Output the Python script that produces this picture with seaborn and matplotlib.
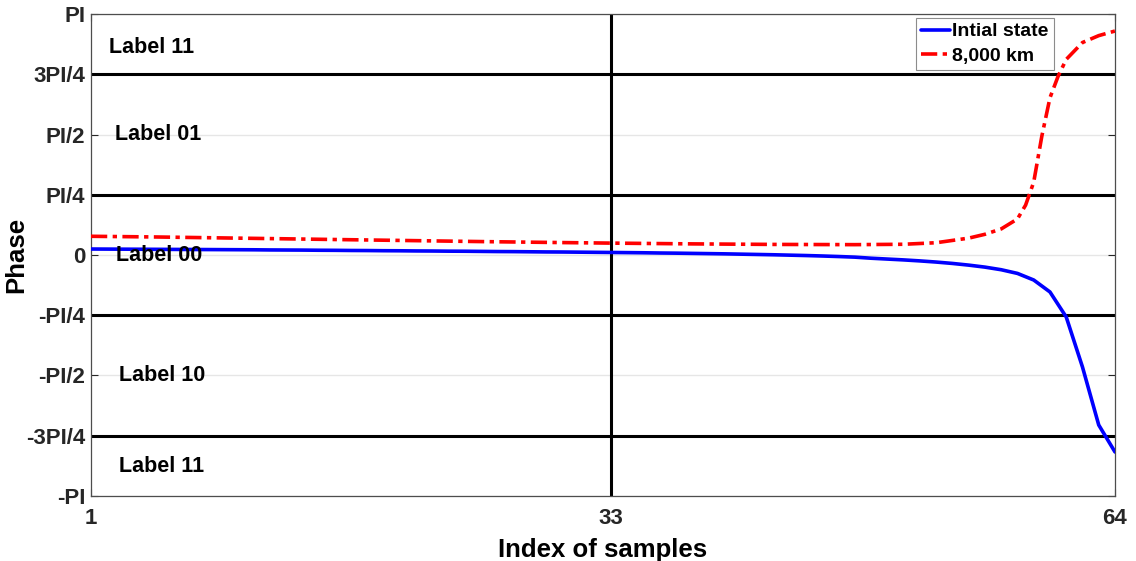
import numpy as np
import pandas as pd
import matplotlib
matplotlib.use("Agg")
import matplotlib.pyplot as plt
import seaborn as sns

# Phase of the initial state, one value per sample index (radians)
idx_initial = list(range(1, 65))
phase_initial = [
    0.078, 0.077, 0.076, 0.075, 0.074, 0.073, 0.072, 0.071, 0.070, 0.069,
    0.068, 0.066, 0.065, 0.064, 0.062, 0.061, 0.059, 0.058, 0.056, 0.055,
    0.053, 0.052, 0.050, 0.049, 0.047, 0.045, 0.044, 0.042, 0.040, 0.039,
    0.037, 0.035, 0.033, 0.031, 0.029, 0.026, 0.024, 0.021, 0.018, 0.015,
    0.011, 0.007, 0.003, -0.002, -0.007, -0.013, -0.020, -0.028, -0.042, -0.053,
    -0.064, -0.077, -0.092, -0.110, -0.132, -0.158, -0.192, -0.240, -0.326, -0.482,
    -0.808, -1.460, -2.216, -2.568,
]

# Phase after 8,000 km of propagation (radians)
idx_8000 = [1, 5, 10, 15, 20, 25, 30, 33, 38, 43, 48, 51, 53, 55, 56, 57,
            58, 58.5, 59, 59.5, 60, 60.5, 61, 62, 63, 64]
phase_8000 = [0.244, 0.235, 0.220, 0.205, 0.190, 0.175, 0.162, 0.155, 0.145,
              0.138, 0.135, 0.140, 0.160, 0.220, 0.270, 0.340, 0.470, 0.650,
              0.950, 1.550, 2.050, 2.330, 2.550, 2.770, 2.860, 2.920]

series_names = ["Intial state", "8,000 km"]

# Region labels: text, x position (sample index), phase
region_text = ["Label 11", "Label 01", "Label 00", "Label 10", "Label 11"]
region_x = [4.75, 5.1, 5.2, 5.35, 5.35]
region_y = [2.70, np.pi / 2, -0.01, -np.pi / 2, -2.76]

ytick_labels = ["-PI", "-3PI/4", "-PI/2", "-PI/4", "0", "PI/4", "PI/2", "3PI/4", "PI"]
xtick_values = [1, 33, 64]

sns.set_style("white")
plt.rcParams["font.family"] = ["Liberation Sans", "DejaVu Sans"]

fig = plt.figure(figsize=(11.36, 5.61), dpi=100)
ax = fig.add_axes([0.0801, 0.1159, 0.9014, 0.8591])

ax.set_xlim(1, 64)
ax.set_ylim(-np.pi, np.pi)

yticks = np.arange(-4, 5) * np.pi / 4
for y in yticks:
    ax.axhline(y, color="#e6e6e6", lw=1.0, zorder=0)
for y in [-3 * np.pi / 4, -np.pi / 4, np.pi / 4, 3 * np.pi / 4]:
    ax.axhline(y, color="black", lw=2.2, zorder=1)
ax.axvline(33, color="black", lw=2.2, zorder=1)

df_a = pd.DataFrame({"idx": idx_initial, "phase": phase_initial})
df_b = pd.DataFrame({"idx": idx_8000, "phase": phase_8000})
sns.lineplot(data=df_a, x="idx", y="phase", ax=ax, color="#0000ff", lw=2.6,
             label=series_names[0], zorder=3)
sns.lineplot(data=df_b, x="idx", y="phase", ax=ax, color="#ff0000", lw=2.6,
             label=series_names[1], zorder=3)
ax.lines[-1].set_linestyle((0, (4.5, 1.5, 1.2, 1.5)))

for t, x, y in zip(region_text, region_x, region_y):
    ax.text(x, y, t, ha="center", va="center", fontsize=15.5, fontweight="bold",
            color="black", zorder=4)

ax.tick_params(axis="both", direction="in", length=5, width=0.8, colors="#262626",
               top=True, right=True, left=True, bottom=True)
ax.tick_params(axis="y", pad=4)
ax.tick_params(axis="x", pad=9)
ax.set_yticks(yticks)
ax.set_yticklabels(ytick_labels, fontsize=16, fontweight="bold", color="#262626")
ax.set_xticks(xtick_values)
ax.set_xticklabels([str(v) for v in xtick_values], fontsize=16, fontweight="bold",
                   color="#262626")

for s in ax.spines.values():
    s.set_color("#4d4d4d")
    s.set_linewidth(0.9)

ax.set_xlabel("Index of samples", fontsize=18.5, fontweight="bold", color="black", labelpad=6)
ax.set_ylabel("Phase", fontsize=18.5, fontweight="bold", color="black")
ax.yaxis.set_label_coords(-0.061, 0.5)

leg = ax.legend(loc="upper right", bbox_to_anchor=(0.940, 0.992), borderaxespad=0,
                frameon=True, fancybox=False, edgecolor="#8c8c8c", framealpha=1,
                prop={"weight": "bold", "size": 14}, handlelength=1.5,
                handletextpad=0.1, borderpad=0.25, labelspacing=0.35,
                labelcolor="black")
leg.get_frame().set_linewidth(0.8)

fig.savefig("out.png", dpi=100)
